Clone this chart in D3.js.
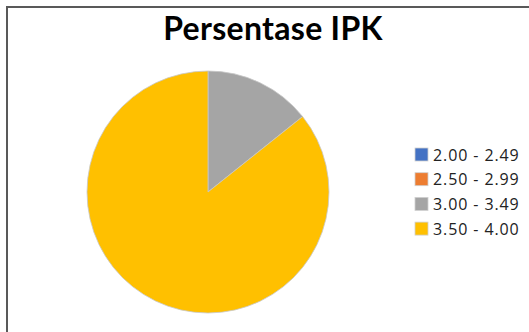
<!DOCTYPE html>
<html>
<head>
<meta charset="utf-8">
<script src="https://cdn.jsdelivr.net/npm/d3@7"></script>
<style>
  html, body { margin: 0; padding: 0; background: #fff; }
  svg { display: block; }
</style>
</head>
<body>
<svg id="chart" width="529" height="332"></svg>
<script>
// IPK ranges and their share (%)
const categories = ["2.00 - 2.49", "2.50 - 2.99", "3.00 - 3.49", "3.50 - 4.00"];
const values = [0, 0, 14.29, 85.71];
const colors = ["#4472C4", "#ED7D31", "#A5A5A5", "#FFC000"];
const title = "Persentase IPK";

const svg = d3.select("#chart");
const W = 529, H = 332;

// frame
svg.append("path")
  .attr("d", `M7,${H} L7,7 L${W},7`)
  .attr("fill", "none")
  .attr("stroke", "#595959")
  .attr("stroke-width", 2);

svg.append("text")
  .attr("x", 273)
  .attr("y", 40)
  .attr("text-anchor", "middle")
  .attr("font-family", "Lato, 'Open Sans', sans-serif")
  .attr("font-weight", "bold")
  .attr("font-size", 32)
  .attr("letter-spacing", 0.3)
  .attr("fill", "#000")
  .text(title);

const color = d3.scaleOrdinal().domain(categories).range(colors);

const cx = 208, cy = 192, r = 121;
const pie = d3.pie().sort(null).value((d, i) => values[i]);
const arc = d3.arc().innerRadius(0).outerRadius(r);

const g = svg.append("g").attr("transform", `translate(${cx},${cy})`);
g.selectAll("path")
  .data(pie(categories))
  .join("path")
  .attr("d", arc)
  .attr("fill", d => color(d.data))
  .attr("stroke", d => d.value > 0 ? "#c8c8c8" : "none")
  .attr("stroke-width", 0.8);

// legend
const legend = svg.append("g").attr("transform", "translate(415,148)");
const row = legend.selectAll("g")
  .data(categories)
  .join("g")
  .attr("transform", (d, i) => `translate(0,${i * 24.7})`);
row.append("rect")
  .attr("width", 13)
  .attr("height", 13)
  .attr("fill", d => color(d))
  .attr("stroke", "#d0d0d0")
  .attr("stroke-width", 0.8);
row.append("text")
  .attr("x", 18)
  .attr("y", 12.5)
  .attr("font-family", "'Open Sans', sans-serif")
  .attr("font-size", 16)
  .attr("letter-spacing", 0.9)
  .attr("fill", "#222")
  .text(d => d);
</script>
</body>
</html>
